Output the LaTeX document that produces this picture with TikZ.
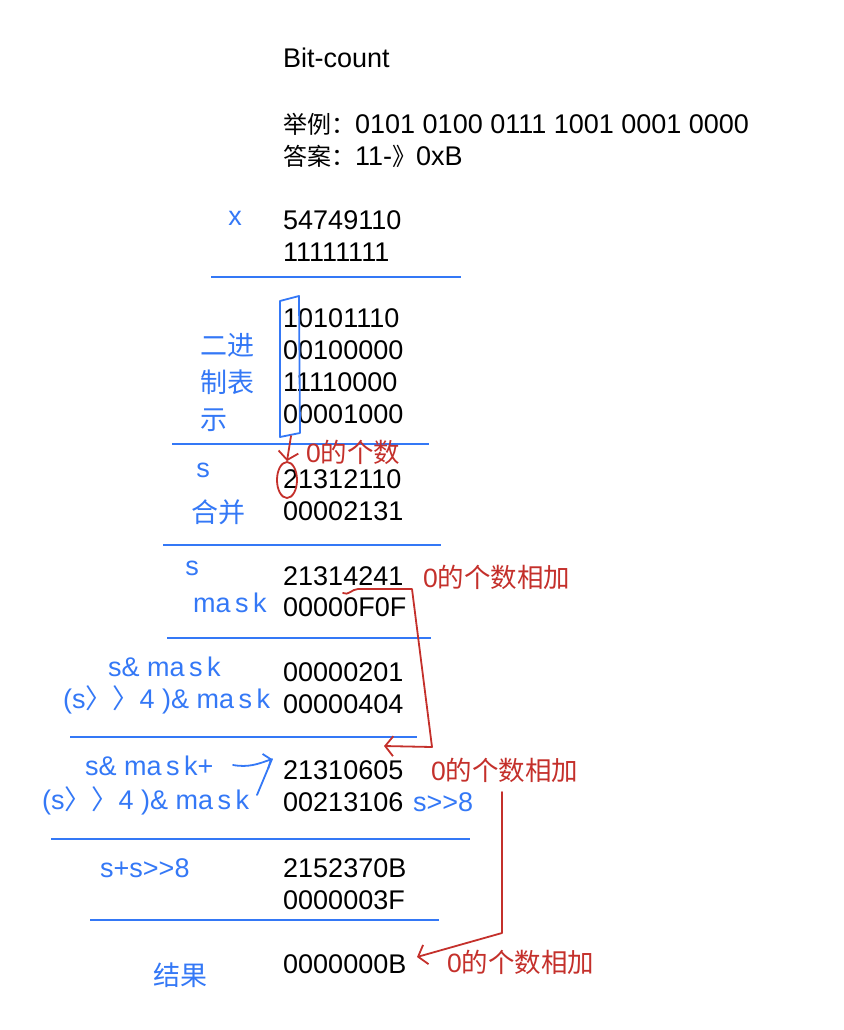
\documentclass[tikz,border=0pt]{standalone}
\usepackage{fontspec}
\setmainfont{Liberation Sans}[Ligatures=NoCommon]
\newfontfamily\cjk{Noto Sans CJK SC}
\usetikzlibrary{arrows.meta, shapes.geometric}
\definecolor{penblue}{RGB}{52, 120, 246}
\definecolor{penred}{RGB}{196, 48, 43}
\newcommand{\hz}[1]{{\cjk #1}}
\newcommand{\hzs}[1]{{\fontsize{24}{24}\selectfont\cjk #1}}
\tikzset{
  numtext/.style={anchor=base west, inner sep=0pt, font=\fontsize{27}{32}\selectfont},
  tagtext/.style={inner sep=0pt, text=penblue, font=\fontsize{27}{32}\selectfont},
  notetext/.style={anchor=west, inner sep=0pt, text=penred, font=\fontsize{26.5}{30}\selectfont},
  sepline/.style={draw=penblue, line width=2pt},
  bluepen/.style={draw=penblue, line width=1.8pt, line cap=round, line join=round},
  redpen/.style={draw=penred, line width=1.8pt, line cap=round, line join=round},
  redarrow/.style={redpen, -{Straight Barb[length=8pt, width=20pt]}},
  bluearrow/.style={bluepen, -{Straight Barb[length=6pt, width=16pt]}},
}

\begin{document}
\begin{tikzpicture}[x=1pt, y=-1pt]
  \useasboundingbox (0,0) rectangle (843,1030);

  % heading
  \node[numtext] (title) at (283,68) {Bit-count};
  \node[numtext] (example) at (283,133) {\hzs{举例：}0101 0100 0111 1001 0001 0000};
  \node[numtext] (answer) at (283,165) {\hzs{答案：}11-\hzs{》}0xB};

  % values
  \node[numtext] (x1) at (283,229) {54749110};
  \node[numtext] (x2) at (283,261) {11111111};
  \node[numtext] (b1) at (283,327) {10101110};
  \node[numtext] (b2) at (283,359) {00100000};
  \node[numtext] (b3) at (283,391) {11110000};
  \node[numtext] (b4) at (283,423) {00001000};
  \node[numtext] (s1) at (283,488) {21312110};
  \node[numtext] (s2) at (283,520) {00002131};
  \node[numtext] (m1) at (283,585) {21314241};
  \node[numtext] (m2) at (283,616) {00000F0F};
  \node[numtext] (a1) at (283,681) {00000201};
  \node[numtext] (a2) at (283,713) {00000404};
  \node[numtext] (c1) at (283,779) {21310605};
  \node[numtext] (c2) at (283,811) {00213106};
  \node[numtext] (d1) at (283,877) {2152370B};
  \node[numtext] (d2) at (283,909) {0000003F};
  \node[numtext] (res) at (283,973) {0000000B};

  % blue labels
  \node[tagtext, anchor=base] (lx) at (235,225) {x};
  \node[tagtext, anchor=west] (lbin1) at (200,345) {\hz{二进}};
  \node[tagtext, anchor=west] (lbin2) at (200,382) {\hz{制表}};
  \node[tagtext, anchor=west] (lbin3) at (200,420) {\hz{示}};
  \node[tagtext, anchor=base] (ls1) at (203,477) {s};
  \node[tagtext, anchor=west] (lmerge) at (191,512) {\hz{合并}};
  \node[tagtext, anchor=base] (ls2) at (192,575) {s};
  \node[tagtext, anchor=base west] (lmask) at (193,612) {ma\,s\,k};
  \node[tagtext, anchor=base west] (land) at (108,676) {s\& ma\,s\,k};
  \node[tagtext, anchor=base west] (lshift) at (63,708) {(s\hz{〉〉}4 )\& ma\,s\,k};
  \node[tagtext, anchor=base west] (lsum) at (85,775) {s\& ma\,s\,k+};
  \node[tagtext, anchor=base west] (lsum2) at (42,809) {(s\hz{〉〉}4 )\& ma\,s\,k};
  \node[tagtext, anchor=base west] (lshr) at (413,811) {s>{}>8};
  \node[tagtext, anchor=base west] (ladd) at (100,877) {s+s>{}>8};
  \node[tagtext, anchor=west] (lres) at (153,975) {\hz{结果}};

  % separators
  \draw[sepline] (211,277) -- (461,277);
  \draw[sepline] (172,444) -- (429,444);
  \draw[sepline] (163,545) -- (441,545);
  \draw[sepline] (167,638) -- (431,638);
  \draw[sepline] (70,737) -- (417,737);
  \draw[sepline] (51,839) -- (470,839);
  \draw[sepline] (90,920) -- (439,920);

  % first column and the count below it
  \coordinate (coltl) at (280,301);
  \coordinate (coltr) at (299,296);
  \coordinate (colbr) at (300,433);
  \coordinate (colbl) at (280,437);
  \coordinate (colfoot) at (291,436);
  \draw[bluepen] (coltl) -- (coltr) -- (colbr) -- (colbl) -- cycle;
  \node[draw=penred, line width=1.8pt, ellipse, minimum width=20pt, minimum height=36pt, inner sep=0pt] (ring) at (287,480) {};
  \draw[redarrow] (colfoot) -- (ring.north);

  % red notes
  \node[notetext] (n1) at (306,452) {0\hz{的个数}};
  \node[notetext] (n2) at (423,577) {0\hz{的个数相加}};
  \node[notetext] (n3) at (431,770) {0\hz{的个数相加}};
  \node[notetext] (n4) at (447,962) {0\hz{的个数相加}};

  % red connectors
  \coordinate (sumstart) at (343,593);
  \coordinate (sumturn) at (412,589);
  \coordinate (sumcorner) at (432,747);
  \coordinate (sumtip) at (384,746);
  \draw[redarrow] (sumstart) to[out=-30,in=180] (358,589) -- (sumturn) -- (sumcorner) -- (sumtip);
  \coordinate (addtop) at (502,792);
  \coordinate (addbot) at (502,933);
  \coordinate (restip) at (417,957);
  \draw[redarrow] (addtop) -- (addbot) -- (restip);

  % blue hook
  \coordinate (hooktail) at (233,765);
  \coordinate (hookhead) at (272,759);
  \coordinate (shifttail) at (257,795);
  \draw[bluearrow] (hooktail) to[out=-10,in=200] (hookhead);
  \draw[bluepen] (shifttail) -- (hookhead);
\end{tikzpicture}
\end{document}
